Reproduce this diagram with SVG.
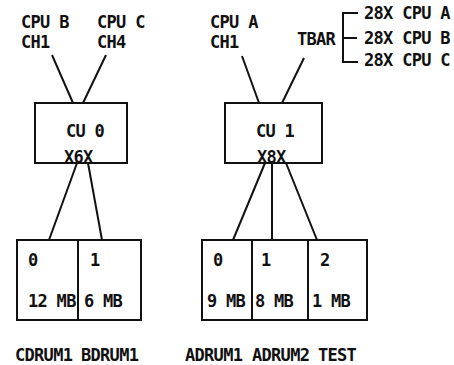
<svg xmlns="http://www.w3.org/2000/svg" width="454" height="365" viewBox="0 0 454 365">
<style>
text{font-family:"DejaVu Sans Mono","Liberation Mono",monospace;font-size:17px;font-weight:bold;letter-spacing:-0.7px;fill:#111}
.box{fill:none;stroke:#111;stroke-width:2}
.ln{stroke:#111;stroke-width:2;fill:none}
</style>
<rect width="454" height="365" fill="#fff"/>
<g id="labels-top">
<text x="21" y="28">CPU B</text>
<text x="21" y="48">CH1</text>
<text x="97" y="28">CPU C</text>
<text x="97" y="48">CH4</text>
<text x="210" y="28">CPU A</text>
<text x="210" y="48">CH1</text>
</g>
<g id="tbar">
<text x="297" y="45">TBAR</text>
<path class="ln" d="M358,13 H343 V62 H358 M343,38 H357"/>
<text x="364" y="19">28X CPU A</text>
<text x="364" y="44">28X CPU B</text>
<text x="364" y="66">28X CPU C</text>
</g>
<g id="connectors">
<line class="ln" x1="52" y1="55" x2="73" y2="103"/>
<line class="ln" x1="106" y1="55" x2="83" y2="103"/>
<line class="ln" x1="242" y1="56" x2="259" y2="103"/>
<line class="ln" x1="304" y1="58" x2="282" y2="103"/>
<line class="ln" x1="77" y1="163" x2="49" y2="240"/>
<line class="ln" x1="88" y1="163" x2="102" y2="240"/>
<line class="ln" x1="265" y1="163" x2="233" y2="240"/>
<line class="ln" x1="272" y1="163" x2="272" y2="240"/>
<line class="ln" x1="286" y1="163" x2="317" y2="240"/>
</g>
<g id="cu0">
<rect class="box" x="35" y="103" width="92" height="60"/>
<text x="66" y="137">CU 0</text>
<text x="64" y="163">X6X</text>
</g>
<g id="cu1">
<rect class="box" x="225" y="103" width="97" height="60"/>
<text x="256" y="137">CU 1</text>
<text x="257" y="163">X8X</text>
</g>
<g id="drum-c">
<rect class="box" x="17" y="240" width="61" height="80"/>
<text x="28" y="266">0</text>
<text x="28" y="307">12 MB</text>
<text x="15" y="361">CDRUM1</text>
</g>
<g id="drum-b">
<rect class="box" x="78" y="240" width="63" height="80"/>
<text x="90" y="266">1</text>
<text x="84" y="307">6 MB</text>
<text x="81" y="361">BDRUM1</text>
</g>
<g id="drum-a1">
<rect class="box" x="202" y="240" width="50" height="80"/>
<text x="213" y="266">0</text>
<text x="207" y="307">9 MB</text>
<text x="185" y="361">ADRUM1</text>
</g>
<g id="drum-a2">
<rect class="box" x="252" y="240" width="56" height="80"/>
<text x="261" y="266">1</text>
<text x="255" y="307">8 MB</text>
<text x="252" y="361">ADRUM2</text>
</g>
<g id="drum-test">
<rect class="box" x="308" y="240" width="59" height="80"/>
<text x="320" y="266">2</text>
<text x="312" y="307">1 MB</text>
<text x="318" y="361">TEST</text>
</g>
</svg>
